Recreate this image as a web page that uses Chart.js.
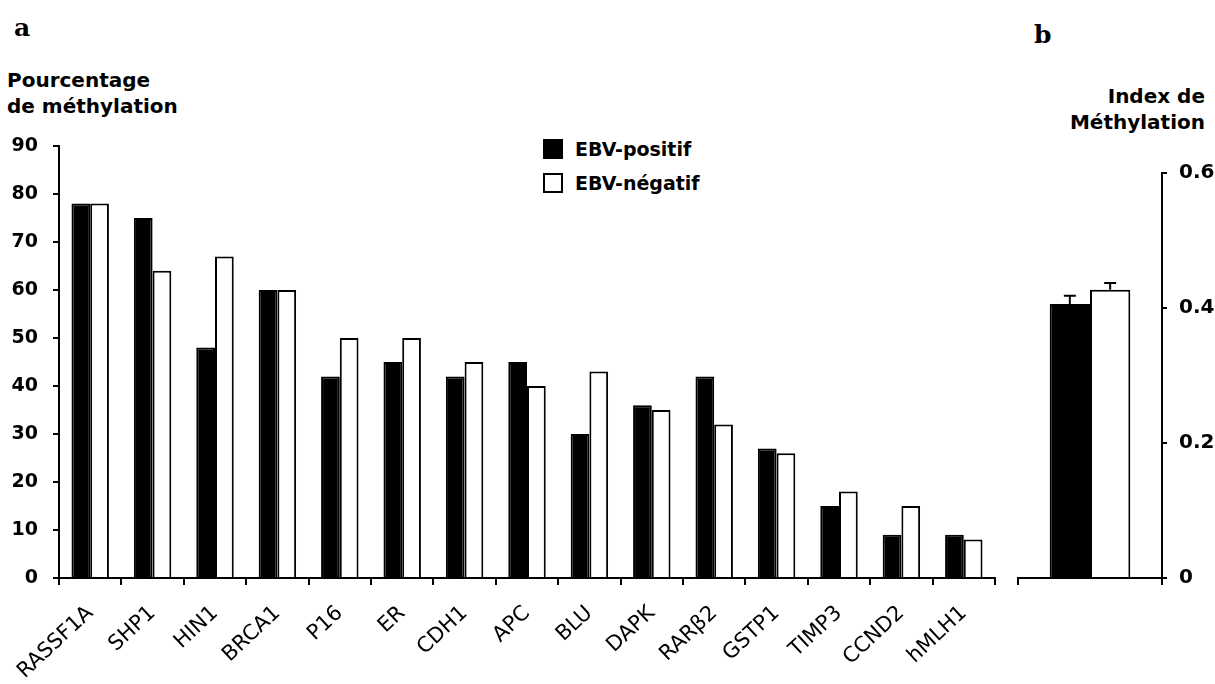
<!DOCTYPE html>
<html>
<head>
<meta charset="utf-8">
<script src="https://cdn.jsdelivr.net/npm/chart.js@4/dist/chart.umd.min.js"></script>
<style>
  html, body { margin: 0; padding: 0; background: #fff; }
  body { width: 1215px; height: 684px; position: relative; overflow: hidden; font-family: "DejaVu Sans", sans-serif; }
  .box { position: absolute; top: 0; height: 684px; }
  .txt { position: absolute; font-weight: bold; color: #000; line-height: 26px; font-size: 20px; }
  .panel { font-family: "DejaVu Serif", serif; font-size: 25px; }
  #legend { position: absolute; left: 543px; top: 132px; }
  #legend div { display: flex; align-items: center; height: 34px; font-weight: bold; font-size: 19px; }
  #legend span.sw { display: inline-block; width: 16px; height: 16px; border: 2px solid #000; margin-right: 12px; }
</style>
</head>
<body>
<div class="txt panel" style="left:14px;top:15px;">a</div>
<div class="txt panel" style="left:1034px;top:22px;">b</div>
<div class="txt" style="left:7px;top:67px;">Pourcentage<br>de méthylation</div>
<div class="txt" style="right:10px;top:83px;text-align:right;">Index de<br>Méthylation</div>
<div id="legend"></div>
<div class="box" style="left:0;width:1010px;"><canvas id="chart-a"></canvas></div>
<div class="box" style="left:1010px;width:205px;"><canvas id="chart-b"></canvas></div>
<script>
const genes = ['RASSF1A', 'SHP1', 'HIN1', 'BRCA1', 'P16', 'ER', 'CDH1', 'APC', 'BLU', 'DAPK', 'RARβ2', 'GSTP1', 'TIMP3', 'CCND2', 'hMLH1'];
const ebvPositif = [78, 75, 48, 60, 42, 45, 42, 45, 30, 36, 42, 27, 15, 9, 9];
const ebvNegatif = [78, 64, 67, 60, 50, 50, 45, 40, 43, 35, 32, 26, 18, 15, 8];
const yTicksA = [0, 10, 20, 30, 40, 50, 60, 70, 80, 90];

const indexLabels = ['Index'];
const indexPositif = [0.406];
const indexNegatif = [0.427];
const indexErrPositif = [0.012];
const indexErrNegatif = [0.010];
const yTicksB = [0, 0.2, 0.4, 0.6];

const seriesNames = ['EBV-positif', 'EBV-négatif'];
const fills = ['#000000', '#ffffff'];

// legend built from the series names
document.getElementById('legend').innerHTML = seriesNames.map((n, i) =>
    `<div><span class="sw" style="background:${fills[i]}"></span>${n}</div>`).join('');

Chart.defaults.font.family = '"DejaVu Sans", sans-serif';
Chart.defaults.color = '#000';
Chart.defaults.animation = false;

// simple error bars drawn on top of bars
const errorBars = {
    id: 'errorBars',
    afterDatasetsDraw(chart) {
        const ctx = chart.ctx;
        const y = chart.scales.y;
        chart.data.datasets.forEach((ds, di) => {
            const errs = ds.errors;
            if (!errs) return;
            chart.getDatasetMeta(di).data.forEach((bar, i) => {
                const top = y.getPixelForValue(ds.data[i] + errs[i]);
                ctx.save();
                ctx.strokeStyle = '#000';
                ctx.lineWidth = 2;
                ctx.beginPath();
                ctx.moveTo(bar.x, bar.y);
                ctx.lineTo(bar.x, top);
                ctx.moveTo(bar.x - 6, top);
                ctx.lineTo(bar.x + 6, top);
                ctx.stroke();
                ctx.restore();
            });
        });
    }
};

new Chart(document.getElementById('chart-a'), {
    type: 'bar',
    data: {
        labels: genes,
        datasets: [
            { label: seriesNames[0], data: ebvPositif, backgroundColor: fills[0], borderColor: '#000', borderWidth: 2 },
            { label: seriesNames[1], data: ebvNegatif, backgroundColor: fills[1], borderColor: '#000', borderWidth: 2 }
        ]
    },
    options: {
        responsive: true,
        maintainAspectRatio: false,
        layout: { padding: { top: 146, right: 15, left: 0, bottom: 0 } },
        datasets: { bar: { categoryPercentage: 0.6, barPercentage: 1.0 } },
        plugins: { legend: { display: false }, tooltip: { enabled: false } },
        scales: {
            x: {
                afterFit: s => { s.height = 106; },
                border: { color: '#000', width: 2 },
                grid: { offset: true, drawOnChartArea: false, color: '#000', lineWidth: 2, tickLength: 7 },
                ticks: { minRotation: 43, maxRotation: 43, padding: 16, font: { size: 21 } }
            },
            y: {
                min: 0,
                max: 90,
                afterFit: s => { s.width = 59; },
                afterBuildTicks: s => { s.ticks = yTicksA.map(v => ({ value: v })); },
                border: { color: '#000', width: 2 },
                grid: { drawOnChartArea: false, color: '#000', lineWidth: 2, tickLength: 6 },
                ticks: { padding: 15, font: { size: 19, weight: 'bold' } }
            }
        }
    }
});

new Chart(document.getElementById('chart-b'), {
    type: 'bar',
    data: {
        labels: indexLabels,
        datasets: [
            { label: seriesNames[0], data: indexPositif, errors: indexErrPositif, backgroundColor: fills[0], borderColor: '#000', borderWidth: 2 },
            { label: seriesNames[1], data: indexNegatif, errors: indexErrNegatif, backgroundColor: fills[1], borderColor: '#000', borderWidth: 2 }
        ]
    },
    plugins: [errorBars],
    options: {
        responsive: true,
        maintainAspectRatio: false,
        layout: { padding: { top: 173, right: 0, left: 8, bottom: 0 } },
        datasets: { bar: { categoryPercentage: 0.56, barPercentage: 1.0 } },
        plugins: { legend: { display: false }, tooltip: { enabled: false } },
        scales: {
            x: {
                afterFit: s => { s.height = 106; },
                border: { color: '#000', width: 2 },
                grid: { offset: true, drawOnChartArea: false, color: '#000', lineWidth: 2, tickLength: 7 },
                ticks: { display: false }
            },
            y: {
                position: 'right',
                min: 0,
                max: 0.6,
                afterFit: s => { s.width = 53; },
                afterBuildTicks: s => { s.ticks = yTicksB.map(v => ({ value: v })); },
                border: { color: '#000', width: 2 },
                grid: { drawOnChartArea: false, color: '#000', lineWidth: 2, tickLength: 5 },
                ticks: { padding: 12, font: { size: 20, weight: 'bold' }, callback: v => v === 0 ? '0' : v.toFixed(1) }
            }
        }
    }
});
</script>
</body>
</html>
